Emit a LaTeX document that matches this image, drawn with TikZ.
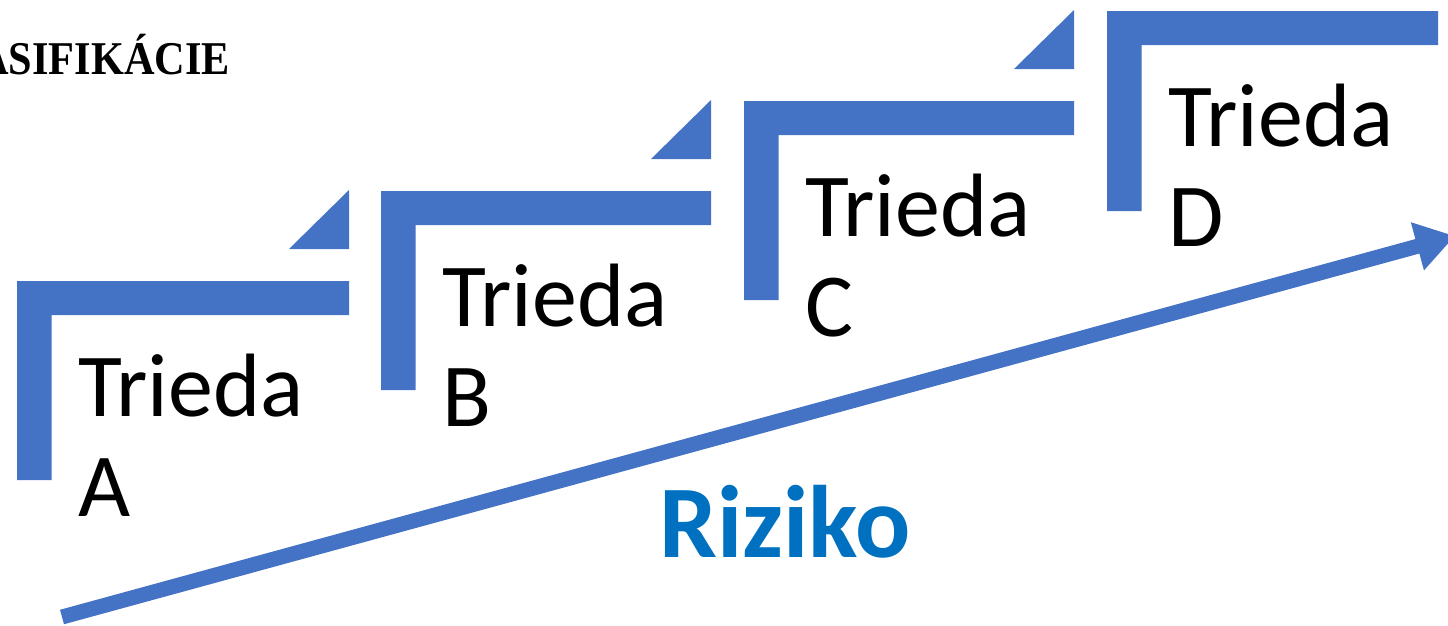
\documentclass[tikz,border=0pt]{standalone}
\usepackage{fontspec}
\setmainfont{Carlito}
\newfontfamily\titlefont{Liberation Serif}
\usetikzlibrary{arrows.meta}
\definecolor{stepblue}{HTML}{4472C4}
\definecolor{riskblue}{HTML}{0070C0}
\tikzset{
  stairfill/.style={fill=stepblue, draw=none},
  classtext/.style={anchor=base west, inner sep=0pt, font=\fontsize{90}{100}\selectfont},
  risktext/.style={anchor=base west, inner sep=0pt, text=riskblue, font=\fontsize{103}{110}\selectfont\bfseries},
  titletext/.style={anchor=base east, inner sep=0pt, xscale=0.9, font=\titlefont\bfseries\fontsize{47}{52}\selectfont},
  riskarrow/.style={draw=stepblue, line width=15pt, -{Triangle[length=39pt, width=47pt]}}
}
\begin{document}
\begin{tikzpicture}[x=1pt, y=-1pt]
\useasboundingbox (0,0) rectangle (1448,625);
% title (clipped at left edge, as in the reference)
\node[titletext] (title) at (230,74) {ASIFIKÁCIE};
% steps
\foreach \nm/\xa/\ytop/\ybot/\xr/\lt in {A/17/281/480/349/A, B/381/191/390/711/B, C/744/101/300/1074/C, D/1107/11/211/1438/D}{
  \fill[stairfill] (\xa,\ybot) -- (\xa,\ytop) -- (\xr,\ytop) -- (\xr,\ytop+34) -- (\xa+34.5,\ytop+34) -- (\xa+34.5,\ybot) -- cycle;
  \fill[stairfill] (\xr-60,\ytop-32) -- (\xr,\ytop-32) -- (\xr,\ytop-91) -- cycle;
  \node[classtext] (t\nm1) at (\xa+61,\ytop+135) {Trieda};
  \node[classtext] (t\nm2) at (\xa+61,\ytop+235) {\lt};
}
% risk arrow
\coordinate (rs) at (62,617);
\coordinate (re) at (1455,236);
\draw[riskarrow] (rs) -- (re);
\node[risktext] (risk) at (659,557) {Riziko};
\end{tikzpicture}
\end{document}
